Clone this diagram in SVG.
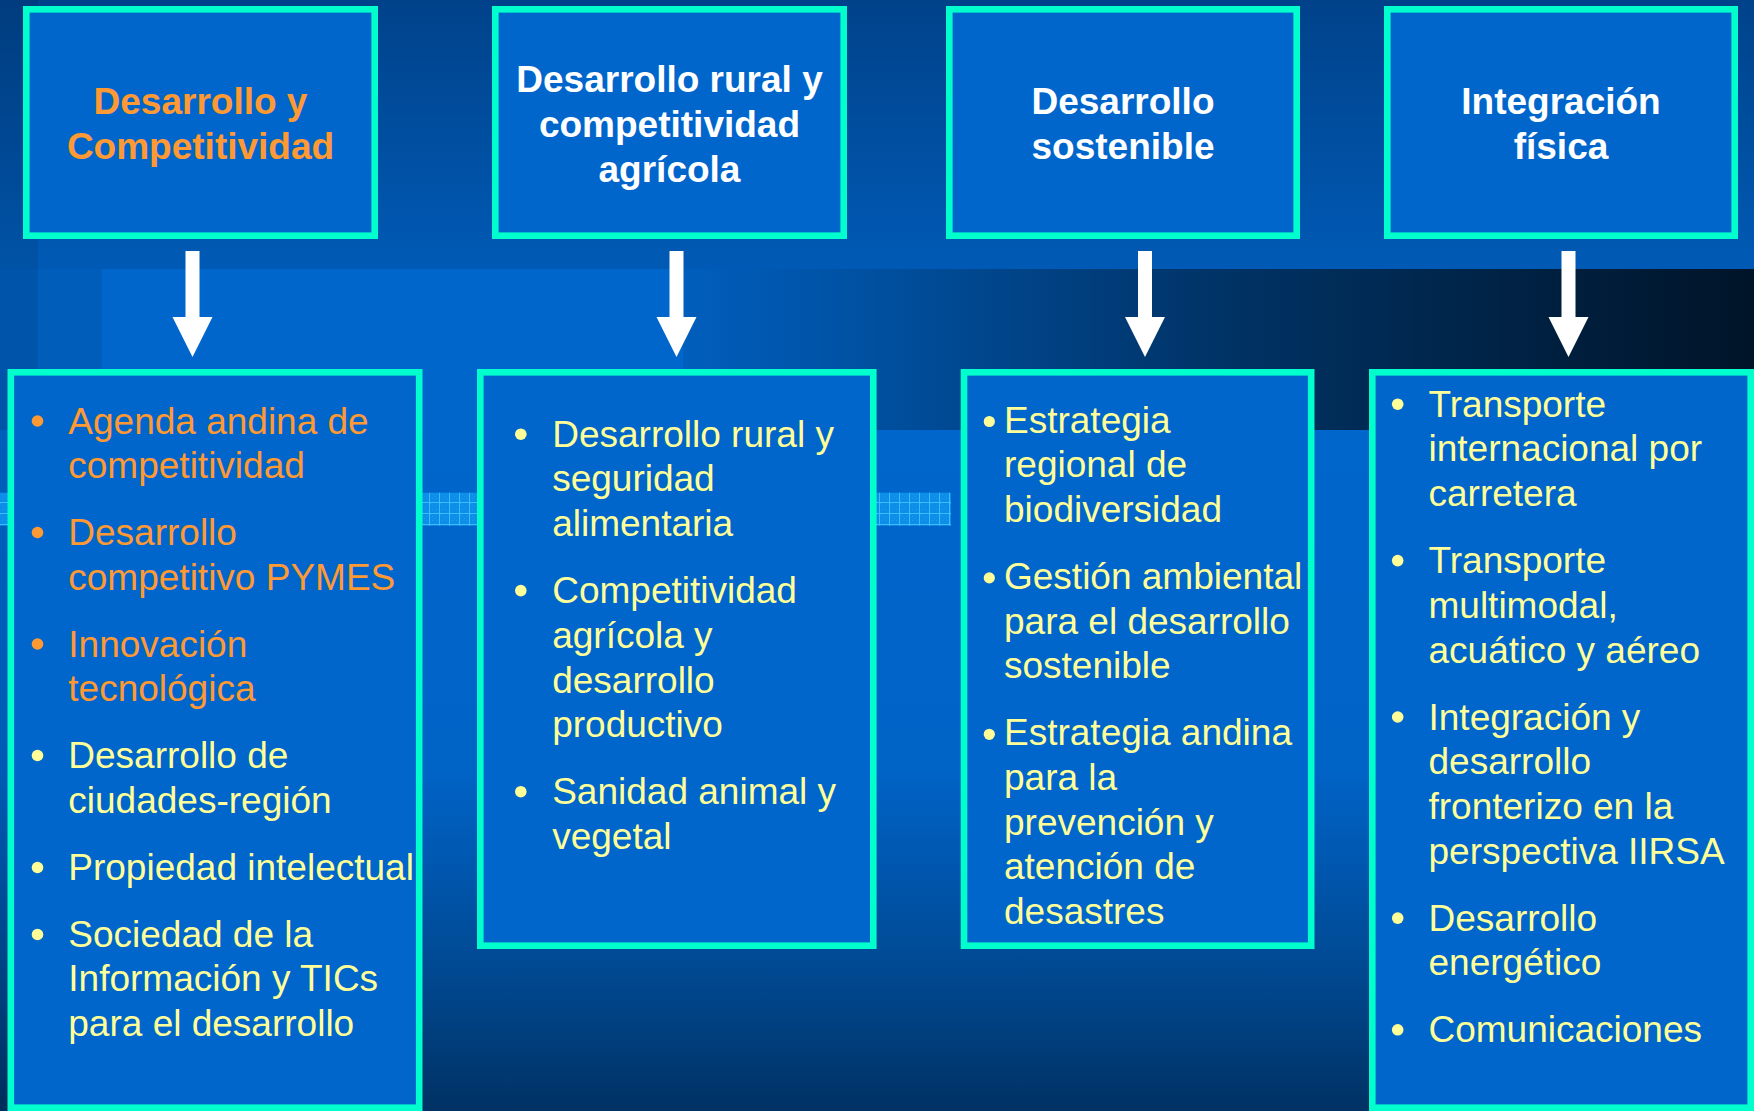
<svg xmlns="http://www.w3.org/2000/svg" width="1754" height="1111" viewBox="0 0 1754 1111">
<style>
.title{font-family:"Liberation Sans",Arial,sans-serif;font-weight:bold;font-size:37px;text-anchor:middle;fill:#FFFFFF}
.item{font-family:"Liberation Sans",Arial,sans-serif;font-size:37px;fill:#FFFF99}
.org{fill:#FF9933}
.box{fill:#0066CC;stroke:#00FFCC;stroke-width:6.6}
.bul{fill:#FFFF99}
.bulo{fill:#FF9933}
.arrow{stroke:#FFFFFF;stroke-width:14;fill:none;marker-end:url(#head)}
</style>
<defs>
<linearGradient id="gTop" x1="0" y1="0" x2="0" y2="1">
<stop offset="0" stop-color="#00428A"/>
<stop offset="1" stop-color="#005AB5"/>
</linearGradient>
<linearGradient id="gBand" x1="0" y1="0" x2="1" y2="0">
<stop offset="0" stop-color="#005EBC"/>
<stop offset="0.15" stop-color="#0052A5"/>
<stop offset="0.5" stop-color="#003366"/>
<stop offset="1" stop-color="#001428"/>
</linearGradient>
<linearGradient id="gLow" x1="0" y1="0" x2="0" y2="1">
<stop offset="0" stop-color="#0066CC"/>
<stop offset="0.5" stop-color="#0063C6"/>
<stop offset="0.65" stop-color="#0056AD"/>
<stop offset="0.8" stop-color="#004890"/>
<stop offset="1" stop-color="#003264"/>
</linearGradient>
<pattern id="grid" x="0" y="492" width="10" height="11" patternUnits="userSpaceOnUse">
<rect width="10" height="11" fill="#0C8DE8"/>
<rect x="0" y="0" width="1" height="1" fill="#1E9AF0"/>
<rect x="2" y="2" width="1" height="1" fill="#1E9AF0"/>
<rect x="4" y="4" width="1" height="1" fill="#1E9AF0"/>
<rect x="6" y="6" width="1" height="1" fill="#1E9AF0"/>
<rect x="2" y="6" width="1" height="1" fill="#1E9AF0"/>
<rect x="6" y="2" width="1" height="1" fill="#1E9AF0"/>
<rect x="9" y="0" width="1" height="11" fill="#3CBDFF"/>
<rect x="0" y="10" width="10" height="1" fill="#3CBDFF"/>
</pattern>
<marker id="head" markerUnits="userSpaceOnUse" markerWidth="42" markerHeight="42" refX="0" refY="20" orient="auto" viewBox="0 0 42 42" overflow="visible">
<path d="M0,0 L40,20 L0,40 Z" fill="#FFFFFF"/>
</marker>
</defs>

<g id="background">
<rect x="0" y="0" width="1754" height="1111" fill="#0066CC"/>
<rect x="0" y="0" width="1754" height="269" fill="url(#gTop)"/>
<rect x="0" y="269" width="1754" height="161" fill="#005DB9"/>
<rect x="102" y="269" width="581" height="161" fill="#0066CC"/>
<rect x="683" y="269" width="1071" height="161" fill="url(#gBand)"/>
<rect x="0" y="430" width="1754" height="681" fill="url(#gLow)"/>
<rect x="0" y="0" width="38" height="1111" fill="#000000" opacity="0.08"/>
<rect x="0" y="492.7" width="951" height="33" fill="url(#grid)"/>
</g>

<g id="connectors">
<line class="arrow" x1="192.5" y1="251" x2="192.5" y2="317"/>
<line class="arrow" x1="676.5" y1="251" x2="676.5" y2="317"/>
<line class="arrow" x1="1145" y1="251" x2="1145" y2="317"/>
<line class="arrow" x1="1568.5" y1="251" x2="1568.5" y2="317"/>
</g>

<g id="node-desarrollo-competitividad">
<rect class="box" x="26.3" y="9.3" width="348.4" height="226.4"/>
<text class="title" style="fill:#FF9933"><tspan x="200.5" y="114">Desarrollo y</tspan><tspan x="200.5" y="159">Competitividad</tspan></text>
</g>
<g id="node-desarrollo-rural">
<rect class="box" x="495.3" y="9.3" width="348.4" height="226.4"/>
<text class="title"><tspan x="669.5" y="92">Desarrollo rural y</tspan><tspan x="669.5" y="137">competitividad</tspan><tspan x="669.5" y="181.5">agrícola</tspan></text>
</g>
<g id="node-desarrollo-sostenible">
<rect class="box" x="949.3" y="9.3" width="347.4" height="226.4"/>
<text class="title"><tspan x="1123" y="114">Desarrollo</tspan><tspan x="1123" y="159">sostenible</tspan></text>
</g>
<g id="node-integracion-fisica">
<rect class="box" x="1387.3" y="9.3" width="347.4" height="226.4"/>
<text class="title"><tspan x="1561" y="114">Integración</tspan><tspan x="1561" y="159">física</tspan></text>
</g>

<g id="node-list-competitividad">
<rect class="box" x="10.8" y="372.3" width="408.4" height="735.4"/>
<circle class="bulo" cx="37.5" cy="421" r="5.8"/>
<circle class="bulo" cx="37.5" cy="532.5" r="5.8"/>
<circle class="bulo" cx="37.5" cy="644" r="5.8"/>
<circle class="bul" cx="37.5" cy="755.5" r="5.8"/>
<circle class="bul" cx="37.5" cy="867.5" r="5.8"/>
<circle class="bul" cx="37.5" cy="934.5" r="5.8"/>
<text class="item org"><tspan x="68.3" y="433.5">Agenda andina de</tspan><tspan x="68.3" y="478.2">competitividad</tspan><tspan x="68.3" y="545">Desarrollo</tspan><tspan x="68.3" y="589.7">competitivo PYMES</tspan><tspan x="68.3" y="656.5">Innovación</tspan><tspan x="68.3" y="701.2">tecnológica</tspan></text>
<text class="item"><tspan x="68.3" y="768">Desarrollo de</tspan><tspan x="68.3" y="812.7">ciudades-región</tspan><tspan x="68.3" y="879.5">Propiedad intelectual</tspan><tspan x="68.3" y="946.7">Sociedad de la</tspan><tspan x="68.3" y="991.4">Información y TICs</tspan><tspan x="68.3" y="1036">para el desarrollo</tspan></text>
</g>

<g id="node-list-rural">
<rect class="box" x="480.3" y="372.3" width="393" height="573.4"/>
<circle class="bul" cx="520.8" cy="434.2" r="5.8"/>
<circle class="bul" cx="520.8" cy="590.6" r="5.8"/>
<circle class="bul" cx="520.8" cy="791.7" r="5.8"/>
<text class="item"><tspan x="552.2" y="446.7">Desarrollo rural y</tspan><tspan x="552.2" y="491.4">seguridad</tspan><tspan x="552.2" y="536.1">alimentaria</tspan><tspan x="552.2" y="603.1">Competitividad</tspan><tspan x="552.2" y="647.8">agrícola y</tspan><tspan x="552.2" y="692.5">desarrollo</tspan><tspan x="552.2" y="737.2">productivo</tspan><tspan x="552.2" y="804.2">Sanidad animal y</tspan><tspan x="552.2" y="848.9">vegetal</tspan></text>
</g>

<g id="node-list-sostenible">
<rect class="box" x="964" y="372.3" width="347.2" height="573.4"/>
<circle class="bul" cx="989.3" cy="421.5" r="5.6"/>
<circle class="bul" cx="989.3" cy="577.9" r="5.6"/>
<circle class="bul" cx="989.3" cy="734.3" r="5.6"/>
<text class="item"><tspan x="1004" y="432.5">Estrategia</tspan><tspan x="1004" y="477.2">regional de</tspan><tspan x="1004" y="521.9">biodiversidad</tspan><tspan x="1004" y="588.9">Gestión ambiental</tspan><tspan x="1004" y="633.6">para el desarrollo</tspan><tspan x="1004" y="678.3">sostenible</tspan><tspan x="1004" y="745.3">Estrategia andina</tspan><tspan x="1004" y="790">para la</tspan><tspan x="1004" y="834.7">prevención y</tspan><tspan x="1004" y="879.4">atención de</tspan><tspan x="1004" y="924.1">desastres</tspan></text>
</g>

<g id="node-list-integracion">
<rect class="box" x="1372.3" y="372.3" width="378.4" height="735.4"/>
<circle class="bul" cx="1397.7" cy="404.2" r="5.8"/>
<circle class="bul" cx="1397.7" cy="560.6" r="5.8"/>
<circle class="bul" cx="1397.7" cy="717" r="5.8"/>
<circle class="bul" cx="1397.7" cy="918.1" r="5.8"/>
<circle class="bul" cx="1397.7" cy="1029.8" r="5.8"/>
<text class="item"><tspan x="1428.5" y="416.7">Transporte</tspan><tspan x="1428.5" y="461.4">internacional por</tspan><tspan x="1428.5" y="506.1">carretera</tspan><tspan x="1428.5" y="573.1">Transporte</tspan><tspan x="1428.5" y="617.8">multimodal,</tspan><tspan x="1428.5" y="662.5">acuático y aéreo</tspan><tspan x="1428.5" y="729.5">Integración y</tspan><tspan x="1428.5" y="774.2">desarrollo</tspan><tspan x="1428.5" y="818.9">fronterizo en la</tspan><tspan x="1428.5" y="863.6">perspectiva IIRSA</tspan><tspan x="1428.5" y="930.6">Desarrollo</tspan><tspan x="1428.5" y="975.3">energético</tspan><tspan x="1428.5" y="1042.3">Comunicaciones</tspan></text>
</g>
</svg>
